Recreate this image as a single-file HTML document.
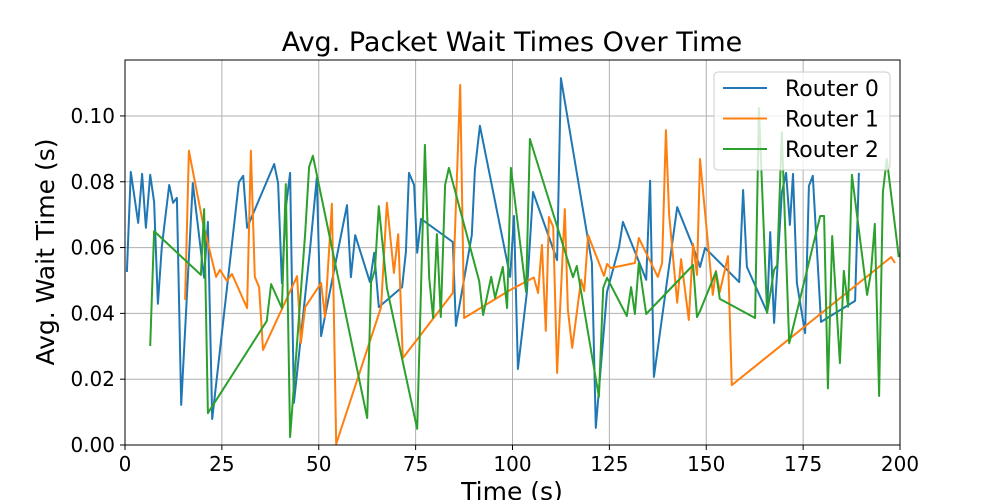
<!DOCTYPE html>
<html><head><meta charset="utf-8"><style>
body{margin:0;background:#fff;font-family:"DejaVu Sans","Liberation Sans",sans-serif;}
svg text{font-family:"DejaVu Sans","Liberation Sans",sans-serif;}
</style></head><body>
<svg id="chart" width="1000" height="500" viewBox="0 0 1000 500" xmlns="http://www.w3.org/2000/svg">
<rect width="1000" height="500" fill="#fff"/>
<text x="512" y="51" font-size="27" text-anchor="middle">Avg. Packet Wait Times Over Time</text>
<g id="grid"></g><g id="series"></g><g id="axes"></g>
<text x="512" y="500" font-size="25" text-anchor="middle">Time (s)</text>
<text transform="translate(54,252) rotate(-90)" font-size="25" text-anchor="middle">Avg. Wait Time (s)</text>
<g id="legend"></g>
</svg>
<script>
const xTicks=[0,25,50,75,100,125,150,175,200];
const yTicks=[0,0.02,0.04,0.06,0.08,0.10];
const yTickLabels=["0.00","0.02","0.04","0.06","0.08","0.10"];
const seriesNames=["Router 0","Router 1","Router 2"];
const r0T=[0.5,1.5,3.4,4.4,5.4,6.5,7.5,8.5,9.5,11.4,12.4,13.4,14.5,17.5,20.4,21.4,22.5,29.4,30.5,31.5,38.5,39.5,40.5,41.5,42.6,43.6,47.7,49.5,50.6,57.3,58.3,59.4,63.2,64.3,65.5,71.5,72.5,73.3,74.6,75.4,76.4,84.6,85.4,89.5,90.3,91.6,99.4,100.4,101.4,103.7,105.3,111.5,112.5,120.5,121.5,124.4,127.5,128.5,134.5,135.5,136.5,142.5,146.6,148.4,149.7,158.5,159.5,160.5,165.7,166.5,167.5,169.5,170.6,171.6,172.4,173.4,175.5,176.5,177.5,179.6,188.4,189.4];
const r0V=[.0526,.0830,.0675,.0824,.0660,.0821,.0739,.0429,.0602,.0790,.0736,.0751,.0122,.0796,.0508,.0678,.0079,.0799,.0818,.0660,.0854,.0796,.0492,.0720,.0827,.0128,.0587,.0812,.0331,.0729,.0510,.0638,.0495,.0584,.0419,.0480,.0587,.0827,.0790,.0584,.0687,.0617,.0362,.0638,.0836,.0970,.0511,.0696,.0231,.0462,.0769,.0562,.1115,.0553,.0052,.0465,.0602,.0678,.0502,.0803,.0207,.0723,.0602,.0541,.0599,.0495,.0775,.0541,.0404,.0647,.0371,.0766,.0827,.0669,.0824,.0492,.0340,.0787,.0818,.0374,.0438,.0827];
const r1T=[15.5,16.5,20.1,23.5,24.5,26.3,27.6,31.5,32.5,33.5,34.6,35.6,44.4,45.4,46.5,50.6,51.6,53.4,54.5,66.1,67.6,69.4,70.5,71.7,84.6,86.5,87.5,99.4,105.5,106.6,107.6,108.6,109.4,110.5,111.5,113.5,114.3,115.4,117.7,118.5,119.5,123.6,124.4,125.4,131.6,132.6,137.5,138.6,139.6,140.4,142.5,143.5,145.5,146.6,147.6,148.4,151.7,152.5,153.5,155.6,156.6,197.7,198.7];
const r1V=[.0441,.0894,.0675,.0511,.0532,.0499,.0520,.0416,.0894,.0511,.0480,.0289,.0513,.0310,.0419,.0492,.0389,.0733,.0003,.0419,.0736,.0523,.0641,.0264,.0462,.1094,.0386,.0471,.0509,.0462,.0608,.0347,.0693,.0663,.0219,.0717,.0410,.0295,.0502,.0468,.0638,.0514,.0550,.0538,.0553,.0629,.0511,.0553,.0957,.0702,.0432,.0565,.0380,.0611,.0517,.0869,.0456,.0529,.0465,.0574,.0182,.0571,.0553];
const r2T=[6.5,7.5,19.6,20.4,21.4,36.6,37.7,40.5,41.5,42.6,46.5,47.5,48.5,62.5,63.5,64.5,65.5,67.6,75.4,77.4,78.5,79.5,80.5,81.5,82.6,83.6,91.4,92.4,94.5,95.5,97.5,98.6,99.6,103.5,104.5,115.6,116.6,122.3,123.4,124.4,129.5,130.6,131.6,132.6,134.5,146.6,147.6,148.4,152.5,153.5,162.6,163.6,165.7,167.5,168.3,169.5,171.4,179.4,180.4,181.4,182.5,184.5,185.5,186.6,187.6,191.5,192.5,193.5,194.6,195.6,196.6,199.7];
const r2V=[.0301,.0650,.0517,.0717,.0097,.0377,.0489,.0416,.0793,.0024,.0644,.0845,.0879,.0082,.0495,.0532,.0726,.0477,.0049,.0912,.0508,.0386,.0641,.0389,.0790,.0842,.0498,.0395,.0511,.0447,.0541,.0416,.0842,.0465,.0930,.0510,.0544,.0146,.0477,.0508,.0392,.0480,.0398,.0553,.0398,.0547,.0389,.0407,.0526,.0444,.0386,.1024,.0401,.0532,.0547,.0951,.0309,.0696,.0696,.0172,.0635,.0249,.0529,.0420,.0821,.0456,.0523,.0672,.0149,.0769,.0869,.0571];
const colors=["#1f77b4","#ff7f0e","#2ca02c"];
const NS="http://www.w3.org/2000/svg";
const L=125,R=900,T=60,B=445;
const xs=t=>L+(t-0)/200*(R-L);
const ys=v=>B-(v-0)/0.117*(B-T);
function mk(tag,attrs,parent){const e=document.createElementNS(NS,tag);for(const k in attrs)e.setAttribute(k,attrs[k]);parent.appendChild(e);return e;}
const grid=document.getElementById('grid'),axes=document.getElementById('axes'),ser=document.getElementById('series');
xTicks.forEach(t=>{
 const g=mk('line',{x1:xs(t),x2:xs(t),y1:T,y2:B,stroke:'#b0b0b0','stroke-width':1},grid);
 
 
 const tk=mk('line',{x1:xs(t),x2:xs(t),y1:B,y2:B+5,stroke:'#000'},axes);
 
 
 const lb=mk('text',{x:xs(t),y:B+26,'font-size':20,'text-anchor':'middle'},axes);lb.textContent=t;
 
 
});
yTicks.forEach((v,i)=>{
 const g=mk('line',{x1:L,x2:R,y1:ys(v),y2:ys(v),stroke:'#b0b0b0','stroke-width':1},grid);
 
 
 const tk=mk('line',{x1:L-5,x2:L,y1:ys(v),y2:ys(v),stroke:'#000'},axes);
 
 
 const lb=mk('text',{x:L-10,y:ys(v)+7,'font-size':20,'text-anchor':'end'},axes);lb.textContent=yTickLabels[i];
 
 
});
const frame=mk('rect',{x:L,y:T,width:R-L,height:B-T,fill:'none',stroke:'#000','stroke-width':1},axes);


[[r0T,r0V],[r1T,r1V],[r2T,r2V]].forEach((s,i)=>{
 const pts=s[0].map((t,j)=>xs(t).toFixed(1)+','+ys(s[1][j]).toFixed(1)).join(' ');
 const p=mk('polyline',{points:pts,fill:'none',stroke:colors[i],'stroke-width':2,'stroke-linejoin':'round'},ser);
 
 
});
const lg=document.getElementById('legend');
const box=mk('rect',{x:714,y:72,width:176,height:98,rx:4,fill:'#fff','fill-opacity':0.8,stroke:'#ccc'},lg);


seriesNames.forEach((n,i)=>{
 const y=88+i*30.5;
 const ln=mk('line',{x1:723,x2:767,y1:y,y2:y,stroke:colors[i],'stroke-width':2},lg);
 
 
 const tx=mk('text',{x:785,y:y+8,'font-size':22},lg);tx.textContent=n;
 
 
});
</script>
</body></html>
